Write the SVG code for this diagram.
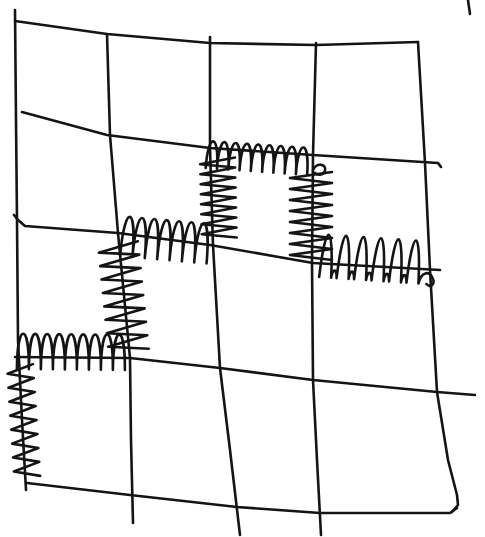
<svg xmlns="http://www.w3.org/2000/svg" width="485" height="537" viewBox="0 0 485 537">
<style>
.ln{stroke:#141414;stroke-width:2.6;fill:none;stroke-linecap:round;stroke-linejoin:round}
.sp{stroke:#141414;stroke-width:2.6;fill:none;stroke-linecap:round;stroke-linejoin:round}
</style>
<rect width="485" height="537" fill="#fff"/>
<g id="grid">
<path class="ln" d="M15,10 L16,120 L17,220 L18,340 L22,420 L26,490"/>
<path class="ln" d="M107,34 L110,135 L118,233 L130,358 L131,440 L133,523"/>
<path class="ln" d="M210,37 L210,148 L213,245 L220,368 L230,450 L240,535"/>
<path class="ln" d="M316,43 L313,155 L312,262 L313,380 L317,460 L321,535"/>
<path class="ln" d="M418,42 L425,163 L430,270 L437,392 L448,460 L457,495 L458,505 L452,512"/>
<path class="ln" d="M15,21 L107,34 L210,43 L316,45 L418,42"/>
<path class="ln" d="M22,112 L107,135 L210,148 L313,155 L438,163 L441,167"/>
<path class="ln" d="M14,215 L18,220 L25,226 L118,233 L210,245 L313,263 L440,270"/>
<path class="ln" d="M15,357 L130,358 L220,368 L313,380 L437,392 L475,395"/>
<path class="ln" d="M27,483 L130,495 L237,507 L320,513 L450,513 L457,508"/>
<path class="ln" stroke-width="4" d="M468,0 L470,14"/>
</g>
<g id="springs">
<path class="sp" transform="translate(207,149) rotate(3.9)" d="M0,19 c0,-36 11.3,-36 11.3,0 c0,-36 11.3,-36 11.3,0 c0,-36 11.3,-36 11.3,0 c0,-36 11.3,-36 11.3,0 c0,-36 11.3,-36 11.3,0 c0,-36 11.3,-36 11.3,0 c0,-36 11.3,-36 11.3,0 c0,-36 11.3,-36 11.3,0 c0,-36 11.3,-36 11.3,0"/>
<path class="sp" transform="translate(211,158) rotate(88.7)" d="M0,-24 l6,35 l4,-35 l6,35 l4,-35 l6,35 l4,-35 l6,35 l4,-35 l6,35 l4,-35 l6,35 l4,-35 l6,35 l4,-35 l6,35 l4,-35"/>
<path class="sp" transform="translate(313,172) rotate(90)" d="M0,-19 l6,42 l5,-42 l6,42 l5,-42 l6,42 l5,-42 l6,42 l5,-42 l6,42 l5,-42 l6,42 l5,-42 l6,42 l5,-42 l6,42 l5,-42"/>
<path class="sp" d="M313,170 c4,-8 14,-6 12,1 c-2,5 -8,4 -10,2"/>
<path class="sp" transform="translate(320,264) rotate(3.75)" d="M0,13 c3,-57 11,-57 12,0 c1,-10 5,-10 5.5,0 c3,-57 11,-57 12,0 c1,-10 5,-10 5.5,0 c3,-57 11,-57 12,0 c1,-10 5,-10 5.5,0 c3,-57 11,-57 12,0 c1,-10 5,-10 5.5,0 c3,-57 11,-57 12,0 c1,-10 5,-10 5.5,0 c3,-57 11,-57 12,0 c2,-12 10,-14 14,-6 c3,6 -2,10 -6,6"/>
<path class="sp" transform="translate(122,234) rotate(5)" d="M0,22 c0,-53 12.4,-53 12.4,0 c0,-53 12.4,-53 12.4,0 c0,-53 12.4,-53 12.4,0 c0,-53 12.4,-53 12.4,0 c0,-53 12.4,-53 12.4,0 c0,-53 12.4,-53 12.4,0 c0,-53 12.4,-53 12.4,0"/>
<path class="sp" transform="translate(120,243) rotate(84.3)" d="M0,-18 l7.5,40 l6,-40 l7.5,40 l6,-40 l7.5,40 l6,-40 l7.5,40 l6,-40 l7.5,40 l6,-40 l7.5,40 l6,-40 l7.5,40 l6,-40 l7.5,40 l6,-40"/>
<path class="sp" transform="translate(17,356) rotate(0.5)" d="M0,13 c0,-47 12,-47 12,0 c0,-47 12,-47 12,0 c0,-47 12,-47 12,0 c0,-47 12,-47 12,0 c0,-47 12,-47 12,0 c0,-47 12,-47 12,0 c0,-47 12,-47 12,0 c0,-47 12,-47 12,0 c0,-47 12,-47 12,0"/>
<path class="sp" transform="translate(19,365) rotate(86.3)" d="M0,-14 l8,26 l6,-26 l8,26 l6,-26 l8,26 l6,-26 l8,26 l6,-26 l8,26 l6,-26 l8,26 l6,-26 l8,26 l6,-26 l8,26 l6,-26"/>
</g>
</svg>
